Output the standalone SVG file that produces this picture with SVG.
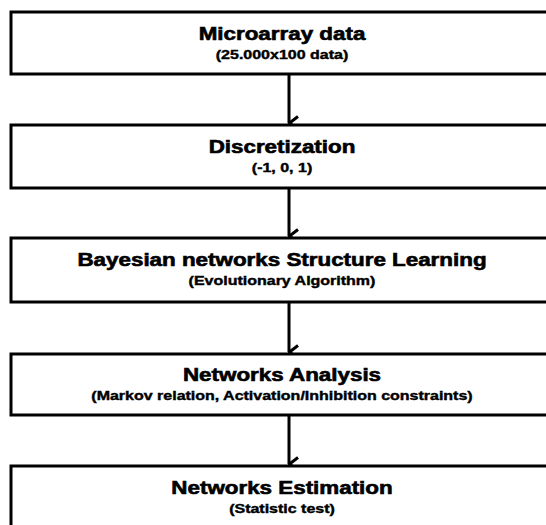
<svg xmlns="http://www.w3.org/2000/svg" width="546" height="525" viewBox="0 0 546 525">
<defs>
<style>
.box{fill:#fff;stroke:#000;stroke-width:3}
.t{font-family:"Liberation Sans",Arial,sans-serif;font-weight:bold;font-size:17.5px;text-anchor:middle;fill:#000;stroke:#000;stroke-width:0.6}
.s{font-family:"Liberation Sans",Arial,sans-serif;font-weight:bold;font-size:12.5px;text-anchor:middle;fill:#000;stroke:#000;stroke-width:0.4}
.c{stroke:#000;stroke-width:3;fill:none}
</style>
<marker id="arr" markerUnits="userSpaceOnUse" viewBox="0 0 16 12" refX="8" refY="11" markerWidth="16" markerHeight="12" orient="auto-start-reverse">
<path d="M1.5,2 L8,10.5 L14.5,2" fill="none" stroke="#000" stroke-width="3"/>
</marker>
</defs>
<rect width="546" height="525" fill="#fff"/>
<g id="connectors">
<line class="c" x1="289" y1="74" x2="289" y2="123" marker-end="url(#arr)"/>
<line class="c" x1="289" y1="188" x2="289" y2="236" marker-end="url(#arr)"/>
<line class="c" x1="289" y1="302" x2="289" y2="352" marker-end="url(#arr)"/>
<line class="c" x1="289" y1="415" x2="289" y2="464" marker-end="url(#arr)"/>
</g>
<g id="node1">
<rect class="box" x="11" y="12" width="542" height="62"/>
<text class="t" transform="translate(282,40) scale(1.28,1)">Microarray data</text>
<text class="s" transform="translate(282,59) scale(1.28,1)">(25.000x100 data)</text>
</g>
<g id="node2">
<rect class="box" x="11" y="125" width="542" height="63"/>
<text class="t" transform="translate(282,153) scale(1.28,1)">Discretization</text>
<text class="s" transform="translate(282,172) scale(1.28,1)">(-1, 0, 1)</text>
</g>
<g id="node3">
<rect class="box" x="11" y="238" width="542" height="64"/>
<text class="t" transform="translate(282,266) scale(1.28,1)">Bayesian networks Structure Learning</text>
<text class="s" transform="translate(282,285) scale(1.28,1)">(Evolutionary Algorithm)</text>
</g>
<g id="node4">
<rect class="box" x="11" y="354" width="542" height="61"/>
<text class="t" transform="translate(282,381) scale(1.28,1)">Networks Analysis</text>
<text class="s" transform="translate(282,400) scale(1.28,1)">(Markov relation, Activation/Inhibition constraints)</text>
</g>
<g id="node5">
<rect class="box" x="11" y="466" width="542" height="70"/>
<text class="t" transform="translate(282,494) scale(1.28,1)">Networks Estimation</text>
<text class="s" transform="translate(282,513) scale(1.28,1)">(Statistic test)</text>
</g>
</svg>
